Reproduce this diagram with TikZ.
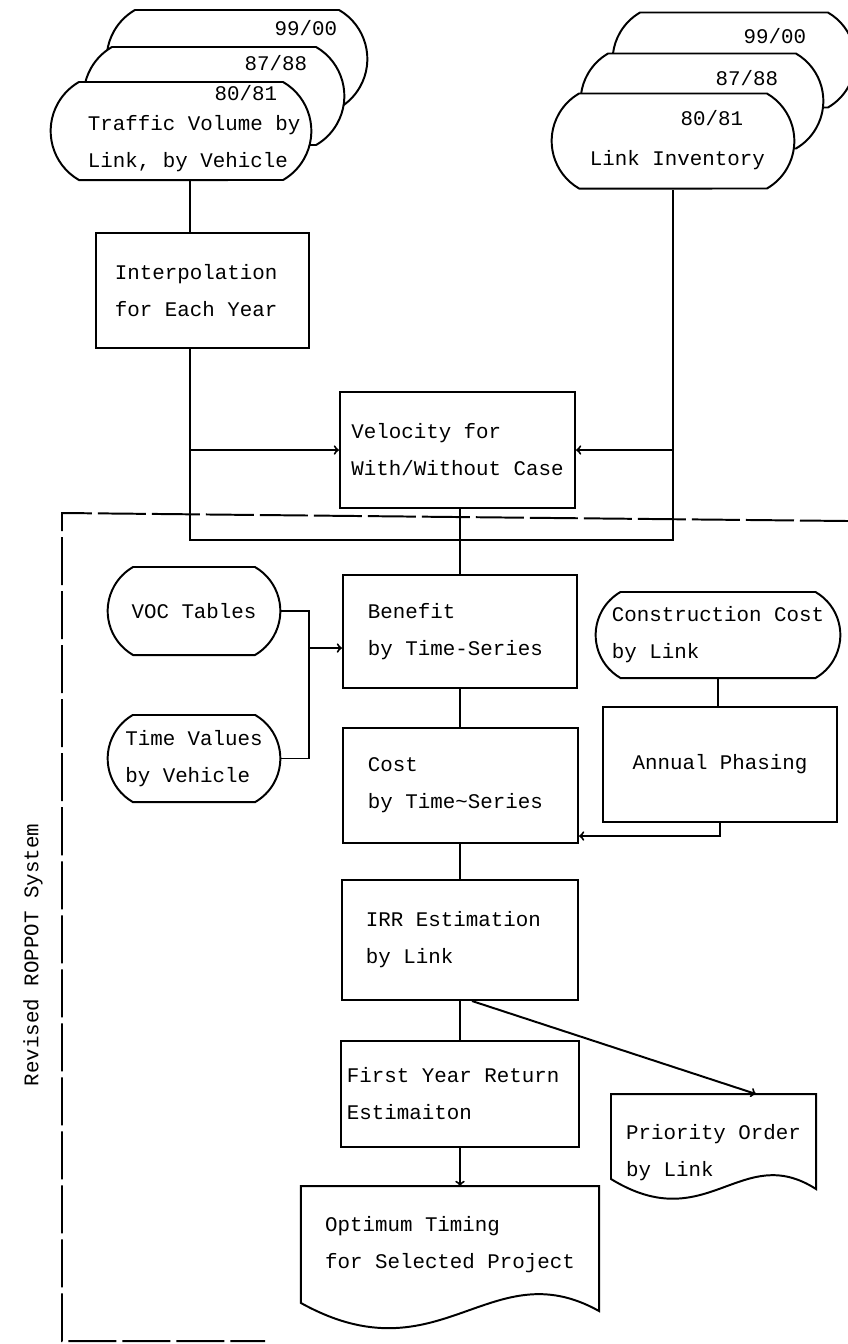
\documentclass[tikz,border=0pt]{standalone}
\usepackage{fontspec}
\setmainfont{Liberation Mono}[WordSpace={1,0,0}]
\usetikzlibrary{shapes.misc,calc}

\tikzset{
  proc/.style={draw, rectangle, align=left},
  wproc/.style={draw, rectangle, align=flush left},
  store/.style={draw, rounded rectangle, rounded rectangle arc length=120, fill=white},
  doc/.style={rectangle, align=left},
  txt/.style={inner sep=0pt, align=left},
}

\begin{document}
\begin{tikzpicture}[x=0.025cm, y=-0.025cm, line width=1.4pt,
    every node/.style={font=\fontsize{14.8}{26.3}\selectfont}]
    \useasboundingbox (0,0) rectangle (848,1344);

    % traffic volume files (three years)
    \node[store, minimum width=6.75cm, minimum height=2.45cm] (tvC) at (237,59) {};
    \node[store, minimum width=6.75cm, minimum height=2.45cm] (tvB) at (214,96) {};
    \node[store, minimum width=6.75cm, minimum height=2.45cm] (tvA) at (181,131) {};
    \node[txt, anchor=base east] (tvyC) at (338,35) {99/00};
    \node[txt, anchor=base east] (tvyB) at (308,70) {87/88};
    \node[txt, anchor=base east] (tvyA) at (278,100) {80/81};
    \node[txt, anchor=west] (tvtxt) at (87,144) {Traffic Volume by\\Link, by Vehicle};

    % link inventory files
    \node[store, minimum width=6.3cm, minimum height=2.375cm] (liC) at (734,60) {};
    \node[store, minimum width=6.3cm, minimum height=2.375cm] (liB) at (702,101) {};
    \node[store, minimum width=6.3cm, minimum height=2.375cm] (liA) at (673,141) {};
    \node[txt, anchor=base east] (liyC) at (807,43) {99/00};
    \node[txt, anchor=base east] (liyB) at (779,85) {87/88};
    \node[txt, anchor=base east] (liyA) at (744,125) {80/81};
    \node[txt, anchor=base west] (litxt) at (589,165) {Link Inventory};

    \node[wproc, inner xsep=0.475cm, text width=4.375cm, minimum height=2.875cm] (interp) at (202.5,290.5) {Interpolation\\for Each Year};
    \node[proc, minimum width=5.875cm, minimum height=2.9cm] (vel) at (457.5,450) {Velocity for\\With/Without Case};

    % revised system
    \node[wproc, inner xsep=0.625cm, text width=4.6cm, minimum height=2.825cm] (ben) at (460,631.5) {Benefit\\by Time-Series};
    \node[wproc, inner xsep=0.625cm, text width=4.625cm, minimum height=2.875cm] (cost) at (460.5,785.5) {Cost\\by Time\textasciitilde Series};
    \node[wproc, inner xsep=0.6cm, text width=4.7cm, minimum height=3cm] (irr) at (460,940) {IRR Estimation\\by Link};
    \node[wproc, inner xsep=0.15cm, text width=5.65cm, minimum height=2.65cm] (fyr) at (460,1094) {First Year Return\\Estimaiton};
    \node[store, align=left, minimum width=4.55cm, minimum height=2.2cm] (voc) at (194,611) {VOC Tables};
    \node[store, align=left, minimum width=4.55cm, minimum height=2.175cm] (tval) at (194,758.5) {Time Values\\by Vehicle};
    \node[store, align=left, minimum width=6.35cm, minimum height=2.15cm] (ccost) at (718,635) {Construction Cost\\by Link};
    \node[proc, minimum width=5.85cm, minimum height=2.875cm] (annual) at (720,764.5) {Annual Phasing};
    \node[doc, minimum width=7.4cm, minimum height=2.875cm] (opt) at (450,1244.5) {Optimum Timing\\for Selected Project};
    \node[doc, minimum width=5.075cm, minimum height=2.9cm] (prio) at (713.5,1153) {Priority Order\\by Link};
    \draw (opt.north west) -- (opt.south west) .. controls (440,1380) and (490,1250) .. ($(opt.south east)+(0,8)$) -- (opt.north east) -- cycle;
    \draw (prio.north west) -- ($(prio.north west)+(0,85)$) .. controls (707,1238) and (741,1141) .. ($(prio.north east)+(0,95)$) -- (prio.north east) -- cycle;

    \node[rotate=90] (sysname) at (33,955) {Revised ROPPOT System};
    \draw[dash pattern=on 1.2cm off 0.15cm] (848,521) -- (62,513) -- (62,1341) -- (265,1341);

    % connectors
    \coordinate (loopL) at (190,540);
    \coordinate (loopR) at (673,540);
    \coordinate (vjoin) at (309,648);
    \draw ($(tvA.south)+(9,0)$) -- (interp.north -| loopL);
    \draw (interp.south -| loopL) -- (loopL) -- (loopR) -- (liA.south);
    \draw[-to] (loopL |- vel.west) -- (vel.west);
    \draw[-to] (loopR |- vel.east) -- (vel.east);
    \draw (ben.north) -- (ben.north |- vel.south);
    \draw (voc.east) -- (voc.east -| vjoin) -- (tval.east -| vjoin) -- (tval.east);
    \draw[-to] (vjoin) -- (ben.west |- vjoin);
    \draw (ben.south) -- (ben.south |- cost.north);
    \draw (ccost.south) -- (ccost.south |- annual.north);
    \draw[-to] (annual.south) |- ($(cost.south east)+(0,-8)$);
    \draw (irr.north) -- (irr.north |- cost.south);
    \draw (irr.south) -- (irr.south |- fyr.north);
    \draw[-to] ($(irr.south)+(12,0)$) -- ($(prio.north)+(42.5,0)$);
    \draw[-to] (fyr.south) -- (fyr.south |- opt.north);
\end{tikzpicture}
\end{document}
